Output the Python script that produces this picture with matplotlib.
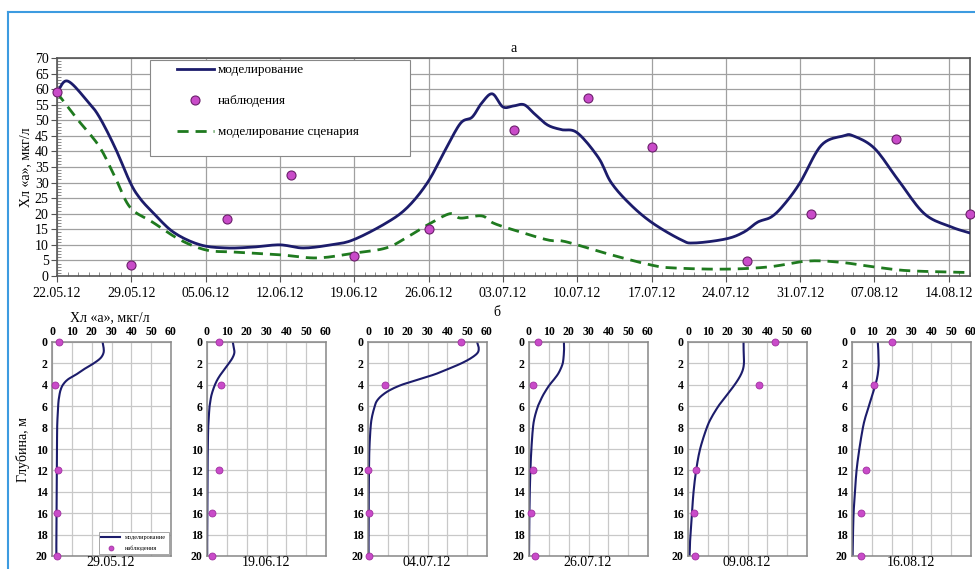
import numpy as np
import matplotlib
matplotlib.use("Agg")
import matplotlib.pyplot as plt
import matplotlib.dates as mdates
from matplotlib.lines import Line2D
from matplotlib.patches import Rectangle

plt.rcParams['font.family'] = ['Liberation Serif', 'DejaVu Serif']

# --- top chart data (days after 22.05.12) ---
start = np.datetime64('2012-05-22')
model_days = [0, 1, 2.9, 4, 5.5, 6.9, 7.8, 9, 11, 13.5, 16, 18.5, 21, 23.2, 25.8,
              27.9, 31, 33, 34.9, 36.5, 38, 39.1, 40, 41, 42, 43, 44, 45, 46.2,
              47.5, 49, 51, 52.2, 54, 56.1, 58.8, 60, 63, 64.7, 66, 67.3, 68.5,
              70, 72, 74.1, 75, 77, 79.2, 81.7, 84.2, 86]
model_vals = [59, 62.6, 56, 51, 41, 30, 25, 20.5, 14, 10, 9, 9.3, 10, 9, 10,
              11.6, 17, 22, 30, 40, 49, 51, 55.5, 58.5, 54.3, 54.6, 55, 52, 48.5,
              47, 46, 38, 30, 23, 17, 11.6, 10.6, 11.9, 14.1, 17.3, 19, 23,
              30, 42, 45, 45, 41, 31, 20, 15.8, 13.8]
scen_days = [0, 0.3, 2, 4, 5.5, 6.9, 9, 11.6, 14.1, 16.6, 21, 24.5, 27.9, 31, 33,
             34.9, 37, 38, 40, 41.1, 43, 46.2, 47.5, 49, 52.2, 56, 58, 62.8, 67,
             70.7, 73.8, 77, 80.2, 86]
scen_vals = [59, 57.5, 50, 41.5, 31.5, 22, 17.3, 11.6, 8.3, 7.7, 6.8, 5.8, 7.3, 9, 12.5,
             16.4, 20, 18.6, 19.3, 17, 14.8, 11.6, 11.3, 10, 6.8, 3.5, 2.6, 2.2, 2.9,
             4.8, 4.4, 2.9, 1.7, 1.1]
obs_days = [0, 7, 16, 22, 28, 35, 43, 50, 56, 65, 71, 79, 86]
obs_vals = [59, 3.5, 18.3, 32.4, 6.4, 15, 47, 57, 41.5, 4.8, 20, 44, 20]

# --- profile data ---
prof_dates = ['29.05.12', '19.06.12', '04.07.12', '26.07.12', '09.08.12', '16.08.12']
prof_depth = [0, 0.5, 1, 1.5, 2, 2.5, 3, 3.5, 4, 4.5, 5, 5.5, 6, 7, 8, 10, 12, 14, 16, 18, 20]
prof_model = [
    [25.5, 26, 26, 24.5, 21, 16.5, 12.5, 8, 5.5, 4.3, 3.7, 3.3, 3.1, 2.8, 2.6, 2.5, 2.4, 2.3, 2.3, 2.2, 2.2],
    [13, 13.5, 13.8, 12.8, 11, 9, 7, 5.3, 4, 3, 2.2, 1.7, 1.3, 0.9, 0.6, 0.4, 0.3, 0.2, 0.2, 0.1, 0.1],
    [55, 55.8, 55.3, 52, 47, 40.7, 34, 25.5, 17, 11, 7, 4.5, 3.4, 2, 1.3, 0.7, 0.5, 0.4, 0.4, 0.3, 0.3],
    [17.6, 17.7, 17.6, 17.4, 17, 16, 14.6, 12.6, 10.4, 8.6, 7, 5.7, 4.5, 2.9, 2, 1.2, 0.7, 0.4, 0.2, 0.1, 0],
    [28, 28, 28.1, 28.2, 28.2, 27.8, 26.8, 25.3, 23.5, 21.5, 19.4, 17.3, 15.3, 12, 9.5, 6.1, 4.1, 2.8, 2, 1.2, 0.8],
    [13, 13.2, 13.3, 13.4, 13.5, 13.3, 13, 12.5, 11.8, 11, 10.2, 9.3, 8.5, 6.8, 5.5, 3.7, 2.3, 1.5, 0.8, 0.5, 0.3],
]
obs_depth = [0, 4, 12, 16, 20]
prof_obs = [
    [3.3, 1.7, 3, 2.5, 2.5],
    [6.3, 7, 5.8, 2.5, 2.5],
    [47, 8.7, 0, 0.7, 0.3],
    [4.5, 2, 2, 0.8, 2.9],
    [44, 36, 4, 3.2, 3.7],
    [20, 11, 7.2, 4.7, 4.7],
]

navy = '#1c1c6b'
green = '#1f7a1f'
dot_face = '#c94bc9'
dot_edge = '#6b1f6b'


def smooth(x, y, n=10):
    # Catmull-Rom curve through the points (like Excel smoothed lines)
    x = np.asarray(x, float)
    y = np.asarray(y, float)
    px = np.concatenate([[2 * x[0] - x[1]], x, [2 * x[-1] - x[-2]]])
    py = np.concatenate([[2 * y[0] - y[1]], y, [2 * y[-1] - y[-2]]])
    t = np.linspace(0, 1, n, endpoint=False)[:, None]
    def seg(p):
        p0, p1, p2, p3 = p[:-3], p[1:-2], p[2:-1], p[3:]
        return 0.5 * (2 * p1 + (-p0 + p2) * t + (2 * p0 - 5 * p1 + 4 * p2 - p3) * t ** 2
                      + (-p0 + 3 * p1 - 3 * p2 + p3) * t ** 3)
    sx = np.append(seg(px).T.ravel(), x[-1])
    sy = np.append(seg(py).T.ravel(), y[-1])
    return sx, sy


W, H = 975, 569
fig = plt.figure(figsize=(W / 100, H / 100), dpi=100)


def fx(px):
    return px / W


def fy(py):
    return 1 - py / H


# blue frame
fig.add_artist(Line2D([fx(8), fx(8)], [0, fy(12)], color='#3d9be0', lw=1.5))
fig.add_artist(Line2D([fx(8), 1], [fy(12), fy(12)], color='#3d9be0', lw=1.5))

# ---------- top chart ----------
ax = fig.add_axes([fx(57), fy(276), fx(970) - fx(57), fy(58) - fy(276)])
to_dates = lambda d: start + (np.array(d) * 24 * 60).astype('timedelta64[m]')
mx, my = smooth(model_days, model_vals)
sx, sy = smooth(scen_days, scen_vals)
ax.plot(to_dates(mx), my, color=navy, lw=2, label='моделирование', zorder=3)
ax.plot(to_dates(obs_days), obs_vals, 'o', ms=6.5, mfc=dot_face, mec=dot_edge, mew=0.8,
        label='наблюдения', clip_on=False, zorder=4)
ax.plot(to_dates(sx), sy, color=green, lw=2, ls=(0, (4, 2.5)),
        label='моделирование сценария', zorder=3)
ax.set_xlim(start, start + np.timedelta64(86, 'D'))
ax.set_ylim(0, 70)
ax.set_yticks(np.arange(0, 71, 5))
ax.set_xticks([start + np.timedelta64(7 * k, 'D') for k in range(13)])
ax.xaxis.set_major_formatter(mdates.DateFormatter('%d.%m.%y'))
ax.xaxis.set_minor_locator(mdates.DayLocator())
ax.set_yticks(np.arange(0, 71, 1), minor=True)
ax.tick_params(axis='both', which='major', labelsize=10, length=4, color='#555555', pad=2)
ax.tick_params(axis='x', which='major', pad=4)
ax.tick_params(axis='both', which='minor', length=3, direction='in', color='#777777')
ax.grid(True, which='major', color='#a0a0a0', lw=0.9)
for s in ax.spines.values():
    s.set_color('#555555')
    s.set_linewidth(1.2)
ax.set_ylabel('Хл «а», мкг/л', fontsize=10, labelpad=2)
ax.set_title('а', fontsize=10, pad=4)
box = Rectangle((0.102, 0.55), 0.285, 0.44, transform=ax.transAxes, facecolor='white',
                edgecolor='#888888', lw=0.8, zorder=4.5)
ax.add_patch(box)
leg = ax.legend(loc='upper left', bbox_to_anchor=(0.131, 0.972), fontsize=9.5,
                frameon=False, labelspacing=1.42, handlelength=2.8, borderpad=0,
                handletextpad=0.35, borderaxespad=0)
leg.set_zorder(5)

# ---------- profiles ----------
lefts = [52, 207, 368, 529, 688, 852]
for i, lp in enumerate(lefts):
    a = fig.add_axes([fx(lp), fy(556), fx(119), fy(342) - fy(556)])
    px_, py_ = smooth(prof_model[i], prof_depth)
    a.plot(px_, py_, color=navy, lw=1.5, label='моделирование')
    a.plot(prof_obs[i], obs_depth, 'o', ms=5, mfc=dot_face, mec='#a030a0', mew=0.6,
           clip_on=False, zorder=4, label='наблюдения')
    a.set_xlim(0, 60)
    a.set_ylim(20, 0)
    a.set_xticks(np.arange(0, 61, 10))
    a.set_yticks(np.arange(0, 21, 2))
    a.xaxis.tick_top()
    a.tick_params(axis='both', labelsize=8.5, length=0, pad=3)
    for lab in a.get_xticklabels() + a.get_yticklabels():
        lab.set_fontweight('bold')
    a.grid(True, color='#c8c8c8', lw=0.9)
    for s in a.spines.values():
        s.set_color('#888888')
        s.set_linewidth(1.1)
    fig.text(fx(lp + 59), fy(563), prof_dates[i], ha='center', va='center', fontsize=10)
    if i == 0:
        lg = a.legend(loc='lower right', fontsize=4.5, frameon=True, fancybox=False,
                      edgecolor='#999999', framealpha=1, handlelength=3, markerscale=0.7,
                      borderaxespad=0.4, labelspacing=0.9)
        lg.get_frame().set_linewidth(0.6)
        a.set_ylabel('Глубина, м', fontsize=10, labelpad=4)

fig.text(fx(110), fy(318), 'Хл «а», мкг/л', ha='center', va='center', fontsize=10)
fig.text(fx(497), fy(313), 'б', ha='center', va='center', fontsize=10)

fig.savefig('out.png', dpi=100)
